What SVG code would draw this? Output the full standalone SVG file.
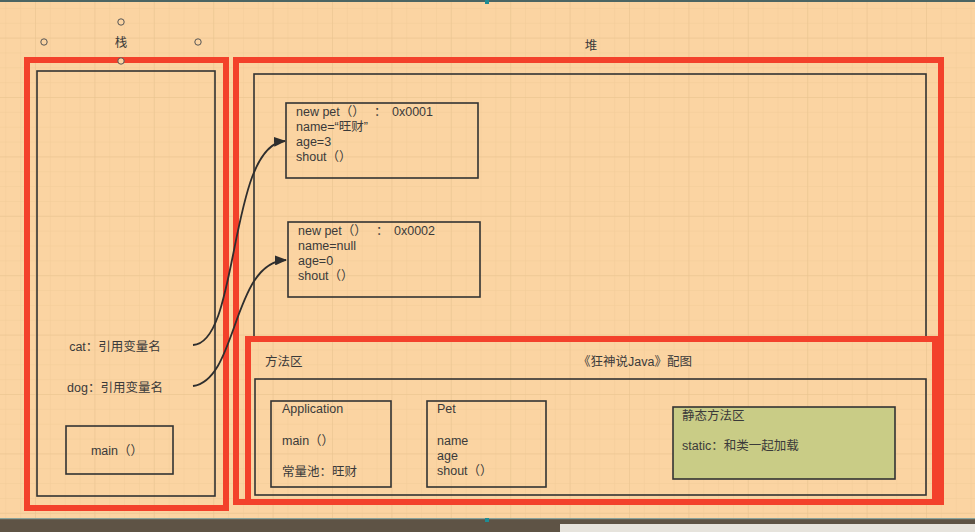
<svg xmlns="http://www.w3.org/2000/svg" width="975" height="532" viewBox="0 0 975 532">
<style>
  text { font-family: "Liberation Sans", "Noto Sans CJK SC", sans-serif; font-size: 12.5px; fill: #3a3a3a; }
  .red { fill: none; stroke: #f3412b; stroke-width: 6; }
  .box { fill: none; stroke: #333; stroke-width: 1.6; }
  .handle { fill: #fbd4a2; stroke: #555; stroke-width: 1; }
  .conn { fill: none; stroke: #2e2e2e; stroke-width: 1.8; }
</style>
<defs>
  <pattern id="minor" x="35" y="37.6" width="14.85" height="14.85" patternUnits="userSpaceOnUse">
    <path d="M0 0 V14.85 M0 0 H14.85" fill="none" stroke="#f2cb97" stroke-width="1"/>
  </pattern>
  <pattern id="major" x="35" y="37.6" width="59.4" height="59.4" patternUnits="userSpaceOnUse">
    <path d="M0 0 V59.4 M0 0 H59.4" fill="none" stroke="#e9c38f" stroke-width="1"/>
  </pattern>
  <marker id="arrow" viewBox="0 0 12 10" refX="11" refY="5" markerWidth="12" markerHeight="10" markerUnits="userSpaceOnUse" orient="auto">
    <path d="M0 0 L12 5 L0 10 Z" fill="#2e2e2e"/>
  </marker>
</defs>

<rect x="0" y="0" width="975" height="532" fill="#fbd4a2"/>
<rect x="0" y="0" width="975" height="519" fill="url(#minor)"/>
<rect x="0" y="0" width="975" height="519" fill="url(#major)"/>
<rect x="0" y="0" width="975" height="2" fill="#4b6563"/>
<rect x="485" y="0" width="4" height="4" fill="#1f8c94"/>
<rect x="0" y="518" width="975" height="14" fill="#5e5345"/>
<rect x="0" y="518" width="975" height="1.2" fill="#8aa39c"/>
<rect x="485" y="518" width="4" height="4" fill="#1f8c94"/>
<rect x="560" y="524" width="415" height="8" fill="#e6e3dc"/>

<g id="stack">
  <rect class="red" x="27" y="60" width="199" height="448"/>
  <rect class="box" x="37" y="71" width="178" height="425"/>
  <text x="115" y="351" text-anchor="middle">cat：引用变量名</text>
  <text x="115" y="392" text-anchor="middle">dog：引用变量名</text>
</g>
<g id="stack-label">
  <text x="121" y="47" text-anchor="middle">栈</text>
  <circle class="handle" cx="121" cy="22" r="3.2"/>
  <circle class="handle" cx="44" cy="42" r="3.2"/>
  <circle class="handle" cx="198" cy="42" r="3.2"/>
  <circle class="handle" cx="121" cy="61" r="3.2"/>
</g>
<text id="heap-label" x="591" y="50" text-anchor="middle">堆</text>
<g id="main">
  <rect class="box" x="66" y="426" width="107" height="48"/>
  <text x="117" y="455" text-anchor="middle">main（）</text>
</g>

<g id="heap">
  <rect class="box" x="254" y="74" width="672" height="266"/>
  <rect class="red" x="236" y="60" width="705" height="442"/>
</g>

<g id="pet1">
  <rect class="box" x="286" y="103" width="192" height="75"/>
  <text y="116"><tspan x="296">new pet（）</tspan><tspan x="374">：</tspan><tspan x="392">0x0001</tspan></text>
  <text x="296" y="131">name=“旺财”</text>
  <text x="296" y="146">age=3</text>
  <text x="296" y="161">shout（）</text>
</g>
<g id="pet2">
  <rect class="box" x="288" y="222" width="192" height="75"/>
  <text y="235"><tspan x="298">new pet（）</tspan><tspan x="376">：</tspan><tspan x="394">0x0002</tspan></text>
  <text x="298" y="250">name=null</text>
  <text x="298" y="265">age=0</text>
  <text x="298" y="280">shout（）</text>
</g>

<g id="method-area">
  <rect class="red" x="248" y="339" width="687" height="163"/>
  <rect class="box" x="255" y="379" width="671" height="116"/>
  <text x="265" y="366">方法区</text>
  <text x="578" y="366">《狂神说Java》配图</text>
</g>
<g id="application">
  <rect class="box" x="271" y="401" width="120" height="86"/>
  <text x="282" y="413">Application</text>
  <text x="282" y="445">main（）</text>
  <text x="282" y="476">常量池：旺财</text>
</g>
<g id="pet-class">
  <rect class="box" x="427" y="401" width="119" height="86"/>
  <text x="437" y="413">Pet</text>
  <text x="437" y="445">name</text>
  <text x="437" y="460">age</text>
  <text x="437" y="475">shout（）</text>
</g>
<g id="static-area">
  <rect x="673" y="407" width="222" height="72" fill="#c9cc86" stroke="#333" stroke-width="1.6"/>
  <text x="682" y="420">静态方法区</text>
  <text x="682" y="450">static：和类一起加载</text>
</g>

<g id="connectors">
  <path class="conn" d="M193 345 C240 343, 228 145, 285 141" marker-end="url(#arrow)"/>
  <path class="conn" d="M193 386 C238 380, 232 262, 286 260" marker-end="url(#arrow)"/>
</g>
</svg>
